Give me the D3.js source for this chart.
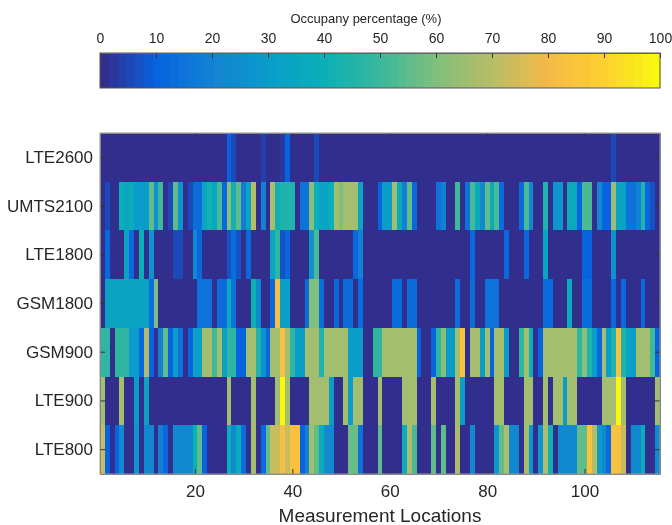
<!DOCTYPE html>
<html lang="en">
<head>
  <meta charset="UTF-8">
  <title>Occupancy heatmap</title>
  <script src="https://d3js.org/d3.v7.min.js"></script>
  <style>
    html, body { margin: 0; padding: 0; background: #fff; }
    svg { display: block; filter: blur(0.35px); }
    text { font-family: "Liberation Sans", Arial, sans-serif; fill: #262626; }
  </style>
</head>
<body>
  <svg id="chart" width="672" height="525"></svg>

  <script>
    const technologies = ['LTE2600', 'UMTS2100', 'LTE1800', 'GSM1800', 'GSM900', 'LTE900', 'LTE800'];
    const xTicks = [20, 40, 60, 80, 100];
    const barTicks = [0, 10, 20, 30, 40, 50, 60, 70, 80, 90, 100];

    // colour stops
    const stopValues = [0, 10, 20, 30, 40, 50, 60, 70, 80, 90, 100];
    const stopColors = ['#352a87', '#0763e0', '#1482d2', '#0a9ccb', '#0aafb8', '#3ab89d', '#80bf7c', '#b8bd68', '#f5b946', '#fcd030', '#f9fb0e'];

    // one value per measurement location, 115 in each row
    const lte2600 = [
      0, 0, 0, 0, 0, 0, 0, 0, 0, 0,
      0, 0, 0, 0, 0, 0, 0, 0, 0, 0,
      0, 0, 0, 0, 0, 0, 10, 5, 0, 0,
      0, 0, 0, 4, 0, 0, 0, 3, 10, 0,
      0, 0, 0, 0, 5, 0, 0, 0, 0, 0,
      0, 0, 0, 0, 0, 0, 0, 0, 0, 0,
      0, 0, 0, 0, 0, 0, 0, 0, 0, 0,
      0, 0, 0, 0, 0, 0, 0, 0, 0, 0,
      0, 0, 0, 0, 0, 0, 0, 0, 0, 0,
      0, 0, 0, 0, 0, 0, 0, 0, 0, 0,
      0, 0, 0, 0, 0, 5, 0, 0, 0, 0,
      0, 0, 0, 0, 0
    ];
    const umts2100 = [
      0, 5, 0, 0, 40, 35, 38, 30, 30, 30,
      55, 25, 50, 0, 5, 55, 27, 0, 5, 13,
      13, 35, 42, 35, 52, 12, 62, 42, 55, 18,
      33, 70, 0, 20, 0, 68, 42, 45, 45, 45,
      0, 15, 15, 62, 40, 33, 33, 40, 66, 60,
      66, 66, 66, 35, 0, 0, 0, 10, 30, 30,
      66, 37, 20, 55, 12, 0, 0, 0, 0, 15,
      20, 0, 0, 50, 0, 15, 52, 38, 22, 55,
      38, 52, 13, 0, 0, 0, 12, 52, 22, 0,
      0, 45, 0, 27, 27, 0, 37, 37, 10, 52,
      52, 0, 22, 10, 10, 65, 33, 33, 15, 15,
      20, 45, 12, 7, 0
    ];
    const lte1800 = [
      0, 12, 0, 0, 0, 33, 12, 0, 40, 0,
      27, 0, 0, 0, 0, 6, 6, 0, 0, 22,
      12, 0, 0, 0, 0, 0, 7, 13, 7, 0,
      12, 0, 0, 0, 0, 35, 47, 7, 12, 0,
      0, 0, 0, 25, 52, 0, 0, 0, 0, 0,
      0, 0, 12, 20, 0, 0, 0, 0, 0, 0,
      0, 0, 0, 0, 0, 0, 0, 0, 0, 0,
      0, 0, 0, 0, 0, 0, 12, 0, 0, 0,
      0, 0, 0, 12, 0, 0, 0, 12, 0, 0,
      0, 35, 0, 0, 0, 0, 0, 0, 0, 10,
      10, 0, 0, 0, 0, 25, 0, 0, 0, 0,
      0, 0, 0, 0, 0
    ];
    const gsm1800 = [
      0, 33, 33, 33, 33, 33, 33, 33, 33, 33,
      13, 58, 0, 0, 0, 0, 0, 0, 0, 0,
      15, 15, 15, 0, 13, 13, 37, 15, 0, 0,
      0, 42, 22, 0, 0, 12, 82, 32, 32, 0,
      0, 0, 13, 60, 60, 13, 0, 0, 12, 0,
      13, 13, 0, 13, 0, 0, 0, 0, 0, 0,
      13, 13, 0, 13, 13, 0, 0, 0, 0, 0,
      0, 0, 0, 13, 0, 0, 13, 0, 0, 15,
      15, 15, 0, 0, 0, 0, 0, 0, 0, 0,
      0, 13, 13, 0, 0, 0, 37, 0, 0, 13,
      13, 0, 0, 0, 0, 12, 0, 12, 0, 0,
      0, 12, 0, 0, 0
    ];
    const gsm900 = [
      47, 47, 0, 47, 47, 47, 30, 30, 12, 68,
      10, 0, 20, 55, 10, 30, 15, 0, 10, 32,
      32, 66, 66, 50, 66, 33, 47, 47, 10, 10,
      66, 66, 45, 25, 12, 66, 66, 84, 66, 47,
      30, 30, 66, 66, 66, 45, 66, 66, 66, 66,
      66, 30, 30, 30, 0, 0, 47, 47, 66, 66,
      66, 66, 66, 66, 66, 10, 0, 0, 10, 47,
      62, 30, 30, 66, 84, 0, 66, 66, 30, 66,
      10, 66, 66, 30, 0, 0, 47, 66, 40, 0,
      10, 66, 66, 66, 66, 66, 66, 66, 47, 62,
      45, 30, 12, 66, 30, 45, 84, 45, 35, 30,
      66, 66, 66, 50, 10
    ];
    const lte900 = [
      66, 0, 0, 0, 66, 0, 0, 30, 0, 33,
      0, 0, 0, 0, 0, 0, 0, 0, 0, 0,
      0, 0, 0, 0, 0, 0, 66, 0, 0, 0,
      0, 66, 0, 0, 0, 0, 66, 100, 66, 0,
      0, 0, 0, 66, 66, 66, 66, 30, 0, 0,
      66, 30, 66, 66, 0, 0, 0, 66, 0, 0,
      0, 0, 66, 66, 66, 0, 0, 0, 66, 0,
      0, 0, 0, 66, 30, 0, 0, 0, 0, 0,
      0, 66, 66, 0, 0, 0, 0, 66, 66, 0,
      0, 66, 0, 66, 66, 30, 66, 66, 0, 0,
      0, 0, 0, 66, 66, 66, 100, 66, 0, 0,
      0, 0, 0, 0, 66
    ];
    const lte800 = [
      72, 10, 0, 10, 22, 0, 0, 27, 0, 22,
      22, 0, 20, 12, 0, 22, 22, 22, 22, 40,
      55, 10, 0, 0, 0, 0, 40, 22, 38, 13,
      0, 66, 0, 12, 55, 72, 72, 82, 72, 84,
      84, 10, 20, 66, 55, 38, 22, 22, 0, 0,
      0, 57, 57, 15, 0, 0, 0, 55, 0, 0,
      0, 0, 38, 68, 52, 0, 0, 0, 55, 0,
      55, 0, 0, 68, 0, 0, 22, 0, 0, 0,
      0, 27, 55, 68, 22, 22, 0, 66, 27, 0,
      27, 68, 42, 0, 22, 22, 22, 22, 55, 55,
      84, 70, 30, 22, 12, 83, 83, 72, 0, 22,
      22, 38, 0, 0, 22
    ];
    const rows = [lte2600, umts2100, lte1800, gsm1800, gsm900, lte900, lte800];

    const svg = d3.select('#chart');
    const mapLeft = 100, mapRight = 660, mapTop = 133, mapBottom = 474;
    const barTop = 53, barBottom = 88;
    const levels = 64;

    const ramp = d3.scaleLinear().domain(stopValues).range(stopColors).interpolate(d3.interpolateRgb);
    // the figure used a 64 step colormap, so snap to the middle of a step
    const level = v => Math.min(levels - 1, Math.floor(v / 100 * levels));
    const color = v => ramp((level(v) + 0.5) * 100 / levels);

    const x = d3.scaleLinear().domain([0.5, rows[0].length + 0.5]).range([mapLeft, mapRight]);
    const y = d3.scaleBand().domain(technologies).range([mapTop, mapBottom]);
    const barX = d3.scaleLinear().domain([0, 100]).range([mapLeft, mapRight]);

    // heatmap
    const row = svg.selectAll('g.row')
      .data(rows)
      .enter().append('g')
      .attr('class', 'row')
      .attr('transform', (d, i) => `translate(0,${y(technologies[i])})`);

    row.selectAll('rect')
      .data(d => d)
      .enter().append('rect')
      .attr('x', (d, i) => x(i + 0.5))
      .attr('width', x(2) - x(1))
      .attr('height', y.bandwidth())
      .attr('fill', d => color(d))
      .attr('shape-rendering', 'crispEdges');

    // colourbar
    svg.selectAll('rect.step')
      .data(d3.range(levels))
      .enter().append('rect')
      .attr('class', 'step')
      .attr('x', d => barX(d * 100 / levels))
      .attr('y', barTop)
      .attr('width', barX(100 / levels) - barX(0) + 0.5)
      .attr('height', barBottom - barTop)
      .attr('fill', d => ramp((d + 0.5) * 100 / levels))
      .attr('shape-rendering', 'crispEdges');

    function styleAxis(g, size) {
      g.select('.domain').attr('stroke', '#777');
      g.selectAll('.tick line').attr('stroke', '#333');
      g.selectAll('text').style('font-size', size + 'px').attr('fill', '#262626');
    }

    svg.append('g')
      .attr('transform', `translate(0,${barTop})`)
      .call(d3.axisTop(barX).tickValues(barTicks).tickSize(-5).tickSizeOuter(0).tickPadding(10))
      .call(styleAxis, 14);

    svg.append('rect')
      .attr('x', mapLeft).attr('y', barTop)
      .attr('width', mapRight - mapLeft).attr('height', barBottom - barTop)
      .attr('fill', 'none').attr('stroke', '#555');

    svg.append('g')
      .attr('transform', `translate(0,${mapBottom})`)
      .call(d3.axisBottom(x).tickValues(xTicks).tickSize(-5).tickSizeOuter(0).tickPadding(11))
      .call(styleAxis, 17);

    svg.append('g')
      .attr('transform', `translate(0,${mapTop})`)
      .call(d3.axisTop(x).tickValues(xTicks).tickSize(-5).tickSizeOuter(0).tickFormat(''))
      .call(styleAxis, 17);

    svg.append('g')
      .attr('transform', `translate(${mapLeft},0)`)
      .call(d3.axisLeft(y).tickSize(-5).tickSizeOuter(0).tickPadding(7))
      .call(styleAxis, 17);

    svg.append('g')
      .attr('transform', `translate(${mapRight},0)`)
      .call(d3.axisRight(y).tickSize(-5).tickSizeOuter(0).tickFormat(''))
      .call(styleAxis, 17);

    svg.append('rect')
      .attr('x', mapLeft).attr('y', mapTop)
      .attr('width', mapRight - mapLeft).attr('height', mapBottom - mapTop)
      .attr('fill', 'none').attr('stroke', '#999');

    svg.append('text')
      .attr('x', 366).attr('y', 23)
      .attr('text-anchor', 'middle')
      .style('font-size', '13px')
      .text('Occupany percentage (%)');

    svg.append('text')
      .attr('x', 380).attr('y', 522)
      .attr('text-anchor', 'middle')
      .style('font-size', '19px')
      .text('Measurement Locations');
  </script>
</body>
</html>
